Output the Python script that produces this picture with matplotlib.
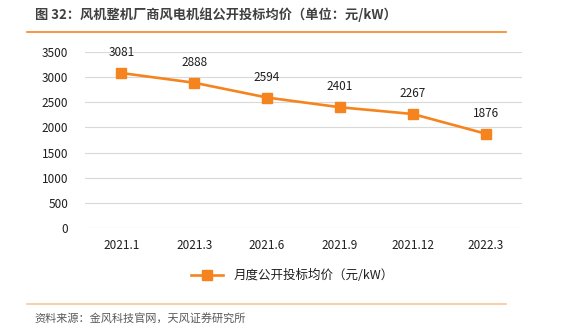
import matplotlib.pyplot as plt
from matplotlib.lines import Line2D

plt.rcParams['font.family'] = ['Noto Sans CJK SC', 'DejaVu Sans']

categories = ['2021.1', '2021.3', '2021.6', '2021.9', '2021.12', '2022.3']
prices = [3081, 2888, 2594, 2401, 2267, 1876]
yticks = [0, 500, 1000, 1500, 2000, 2500, 3000, 3500]

orange = '#F5841F'
text_gray = '#404040'
tick_color = '#1F1F1F'

fig = plt.figure(figsize=(5.62, 3.35), dpi=100)
fig.patch.set_facecolor('white')

ax = fig.add_axes([0.151, 0.319, 0.778, 0.526])
x = list(range(len(categories)))
ax.plot(x, prices, color=orange, lw=1.9, marker='s', markersize=6.5, zorder=3)
for xi, v in zip(x, prices):
    ax.annotate(str(v), (xi, v), xytext=(0, 10), textcoords='offset points',
                ha='center', va='bottom', fontsize=8.5, color=tick_color)

ax.set_xlim(-0.5, len(categories) - 0.5)
ax.set_ylim(0, 3500)
ax.set_yticks(yticks)
ax.set_xticks(x)
ax.set_xticklabels(categories)
ax.tick_params(axis='both', length=0, labelsize=8.5, colors=tick_color)
ax.tick_params(axis='y', pad=12)
ax.tick_params(axis='x', pad=8)
ax.grid(axis='y', color='#D9D9D9', lw=0.8)
ax.set_axisbelow(True)
for s in ax.spines.values():
    s.set_visible(False)

# legend sits centred under the plot
handle = Line2D([], [], color=orange, lw=1.9, marker='s', markersize=6.5)
fig.legend([handle], ['月度公开投标均价（元/kW）'], loc='center',
           bbox_to_anchor=(0.52, 0.178), frameon=False, fontsize=9,
           handlelength=2.6, labelcolor=tick_color)

fig.text(0.062, 0.955, '图 32：风机整机厂商风电机组公开投标均价（单位：元/kW）',
         fontsize=9.5, color=text_gray, fontweight='bold', va='center')
fig.add_artist(Line2D([0.048, 0.9], [0.904, 0.904], color=orange, lw=1.2,
                      transform=fig.transFigure))
fig.add_artist(Line2D([0.048, 0.9], [0.092, 0.092], color='#F8C79A', lw=1.2,
                      transform=fig.transFigure))
fig.text(0.062, 0.05, '资料来源：金风科技官网，天风证券研究所',
         fontsize=8, color='#595959', va='center')

fig.savefig('out.png', dpi=100)
